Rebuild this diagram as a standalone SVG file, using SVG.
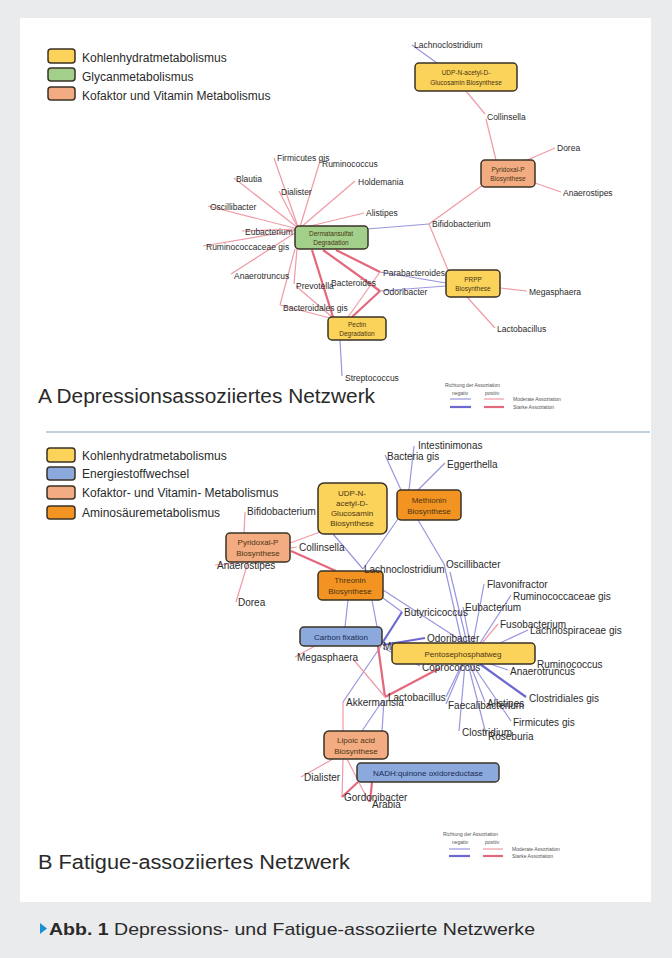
<svg xmlns="http://www.w3.org/2000/svg" width="672" height="958" viewBox="0 0 672 958">
<style>
.n{stroke:#3a3226;stroke-width:1.5}
.y{fill:#fbd35b}.g{fill:#a2d08a}.s{fill:#f3ac82}.o{fill:#f39321}.b{fill:#8ba9dc}
.nt{font-family:"Liberation Sans",Arial,sans-serif;text-anchor:middle;fill:#4a3512}
.ntb{font-family:"Liberation Sans",Arial,sans-serif;text-anchor:middle;fill:#1c2a55}
.la{font-family:"Liberation Sans",Arial,sans-serif;font-size:8.5px;fill:#2b2b2b}
.lb{font-family:"Liberation Sans",Arial,sans-serif;font-size:10px;fill:#2b2b2b}
.leg{font-family:"Liberation Sans",Arial,sans-serif;font-size:12px;fill:#2a2a2a}
.tiny{font-family:"Liberation Sans",Arial,sans-serif;font-size:5px;fill:#555}
.title{font-family:"Liberation Sans",Arial,sans-serif;font-size:20px;fill:#2a2a2a}
.pm{stroke:#ef9aa6;stroke-width:1.2;fill:none}
.ps{stroke:#e4687b;stroke-width:2.2;fill:none}
.bm{stroke:#9896de;stroke-width:1.2;fill:none}
.bs{stroke:#6c68cf;stroke-width:2.2;fill:none}
</style>
<rect x="0" y="0" width="672" height="958" fill="#eaebed"/>
<rect x="20" y="18" width="631" height="884" fill="#ffffff"/>
<line x1="46" y1="432" x2="650" y2="432" stroke="#aebfd0" stroke-width="1.5"/>

<!-- Legend A -->
<g id="legendA">
<rect x="48" y="49" width="27" height="14" rx="3" class="n y"/>
<rect x="48" y="68" width="27" height="13" rx="3" class="n g"/>
<rect x="48" y="87" width="27" height="13" rx="3" class="n s"/>
<text x="82" y="62" class="leg">Kohlenhydratmetabolismus</text>
<text x="82" y="81" class="leg">Glycanmetabolismus</text>
<text x="82" y="100" class="leg">Kofaktor und Vitamin Metabolismus</text>
</g>

<!-- Connectors A -->
<g id="connectorsA">
<line x1="412" y1="45" x2="437" y2="63" class="bm"/>
<line x1="466" y1="91" x2="485" y2="114" class="pm"/>
<line x1="486" y1="119" x2="496" y2="160" class="pm"/>
<line x1="525" y1="161" x2="555" y2="148" class="pm"/>
<line x1="535" y1="183" x2="561" y2="192" class="pm"/>
<line x1="483" y1="185" x2="429" y2="224" class="pm"/>
<line x1="429" y1="224" x2="448" y2="270" class="pm"/>
<line x1="367" y1="229" x2="429" y2="224" class="bm"/>
<line x1="274" y1="158" x2="298" y2="227" class="pm"/>
<line x1="320" y1="161" x2="300" y2="227" class="pm"/>
<line x1="234" y1="178" x2="298" y2="228" class="pm"/>
<line x1="279" y1="191" x2="298" y2="228" class="pm"/>
<line x1="355" y1="181" x2="300" y2="228" class="pm"/>
<line x1="208" y1="206" x2="298" y2="229" class="pm"/>
<line x1="364" y1="213" x2="302" y2="228" class="pm"/>
<line x1="242" y1="231" x2="298" y2="229" class="pm"/>
<line x1="203" y1="246" x2="298" y2="230" class="pm"/>
<line x1="231" y1="274" x2="298" y2="231" class="pm"/>
<line x1="297" y1="249" x2="294" y2="284" class="pm"/>
<line x1="295" y1="249" x2="280" y2="305" class="pm"/>
<line x1="280" y1="305" x2="330" y2="318" class="pm"/>
<line x1="296" y1="286" x2="332" y2="317" class="pm"/>
<line x1="312" y1="250" x2="333" y2="317" class="ps"/>
<line x1="323" y1="250" x2="380" y2="291" class="ps"/>
<line x1="336" y1="250" x2="380" y2="272" class="ps"/>
<line x1="348" y1="317" x2="380" y2="272" class="pm"/>
<line x1="352" y1="317" x2="380" y2="291" class="ps"/>
<line x1="340" y1="340" x2="342" y2="376" class="bm"/>
<line x1="380" y1="272" x2="446" y2="283" class="bm"/>
<line x1="380" y1="291" x2="446" y2="286" class="bm"/>
<line x1="500" y1="288" x2="527" y2="291" class="pm"/>
<line x1="467" y1="297" x2="495" y2="328" class="pm"/>
</g>

<!-- Nodes A -->
<g id="a-udp"><rect x="415" y="63" width="102" height="28" rx="4" class="n y"/>
<text x="466" y="75" class="nt" font-size="6.5">UDP-N-acetyl-D-</text>
<text x="466" y="85" class="nt" font-size="6.5">Glucosamin Biosynthese</text></g>
<g id="a-pyridoxal"><rect x="481" y="160" width="54" height="27" rx="4" class="n s"/>
<text x="508" y="172" class="nt" font-size="6.5">Pyridoxal-P</text>
<text x="508" y="181" class="nt" font-size="6.5">Biosynthese</text></g>
<g id="a-derm"><rect x="295" y="226" width="73" height="23" rx="4" class="n g"/>
<text x="331" y="236" class="nt" font-size="6.5" fill="#2c3a1c">Dermatansulfat</text>
<text x="331" y="245" class="nt" font-size="6.5" fill="#2c3a1c">Degradation</text></g>
<g id="a-pectin"><rect x="328" y="317" width="58" height="23" rx="4" class="n y"/>
<text x="357" y="327" class="nt" font-size="6.5">Pectin</text>
<text x="357" y="336" class="nt" font-size="6.5">Degradation</text></g>
<g id="a-prpp"><rect x="446" y="270" width="54" height="27" rx="4" class="n y"/>
<text x="473" y="282" class="nt" font-size="6.5">PRPP</text>
<text x="473" y="291" class="nt" font-size="6.5">Biosynthese</text></g>

<!-- Labels A -->
<g id="labelsA">
<text x="414" y="48" class="la">Lachnoclostridium</text>
<text x="487" y="120" class="la">Collinsella</text>
<text x="557" y="151" class="la">Dorea</text>
<text x="563" y="196" class="la">Anaerostipes</text>
<text x="432" y="227" class="la">Bifidobacterium</text>
<text x="277" y="161" class="la">Firmicutes gis</text>
<text x="322" y="167" class="la">Ruminococcus</text>
<text x="236" y="182" class="la">Blautia</text>
<text x="281" y="195" class="la">Dialister</text>
<text x="358" y="185" class="la">Holdemania</text>
<text x="210" y="210" class="la">Oscillibacter</text>
<text x="366" y="216" class="la">Alistipes</text>
<text x="245" y="235" class="la">Eubacterium</text>
<text x="206" y="250" class="la">Ruminococcaceae gis</text>
<text x="234" y="279" class="la">Anaerotruncus</text>
<text x="296" y="289" class="la">Prevotella</text>
<text x="331" y="286" class="la">Bacteroides</text>
<text x="283" y="311" class="la">Bacteroidales gis</text>
<text x="383" y="276" class="la">Parabacteroides</text>
<text x="383" y="295" class="la">Odoribacter</text>
<text x="529" y="295" class="la">Megasphaera</text>
<text x="497" y="332" class="la">Lactobacillus</text>
<text x="345" y="381" class="la">Streptococcus</text>
</g>

<text x="38" y="403" class="title" textLength="337" lengthAdjust="spacingAndGlyphs">A Depressionsassoziiertes Netzwerk</text>

<g id="assocA">
<text x="445" y="387" class="tiny">Richtung der Assoziation</text>
<text x="452" y="395" class="tiny">negativ</text>
<text x="485" y="395" class="tiny">positiv</text>
<line x1="450" y1="399" x2="471" y2="399" class="bm"/>
<line x1="484" y1="399" x2="504" y2="399" class="pm"/>
<line x1="450" y1="407" x2="471" y2="407" class="bs"/>
<line x1="484" y1="407" x2="504" y2="407" class="ps"/>
<text x="513" y="401" class="tiny">Moderate Assoziation</text>
<text x="513" y="409" class="tiny">Starke Assoziation</text>
</g>

<!-- Legend B -->
<g id="legendB">
<rect x="47" y="448" width="28" height="14" rx="3" class="n y"/>
<rect x="47" y="467" width="28" height="13" rx="3" class="n b"/>
<rect x="47" y="486" width="28" height="13" rx="3" class="n s"/>
<rect x="47" y="506" width="28" height="13" rx="3" class="n o"/>
<text x="82" y="460" class="leg">Kohlenhydratmetabolismus</text>
<text x="82" y="478" class="leg">Energiestoffwechsel</text>
<text x="82" y="497" class="leg">Kofaktor- und Vitamin- Metabolismus</text>
<text x="82" y="517" class="leg">Aminosäuremetabolismus</text>
</g>

<!-- Connectors B -->
<g id="connectorsB">
<line x1="244" y1="533" x2="245" y2="512" class="pm"/>
<line x1="248" y1="562" x2="236" y2="602" class="pm"/>
<line x1="238" y1="563" x2="215" y2="565" class="pm"/>
<line x1="290" y1="548" x2="297" y2="547" class="pm"/>
<line x1="290" y1="543" x2="320" y2="532" class="pm"/>
<line x1="291" y1="551" x2="336" y2="571" class="ps"/>
<line x1="333" y1="534" x2="363" y2="569" class="bm"/>
<line x1="398" y1="519" x2="363" y2="569" class="bm"/>
<line x1="385" y1="455" x2="401" y2="490" class="bm"/>
<line x1="414" y1="446" x2="409" y2="490" class="bm"/>
<line x1="445" y1="463" x2="418" y2="490" class="bm"/>
<line x1="418" y1="520" x2="444" y2="564" class="bm"/>
<line x1="444" y1="564" x2="462" y2="643" class="bm"/>
<line x1="450" y1="572" x2="467" y2="643" class="bm"/>
<line x1="348" y1="600" x2="345" y2="627" class="bm"/>
<line x1="372" y1="600" x2="377" y2="627" class="bm"/>
<line x1="383" y1="598" x2="402" y2="612" class="bm"/>
<line x1="383" y1="590" x2="465" y2="643" class="bm"/>
<line x1="402" y1="612" x2="381" y2="645" class="bs"/>
<line x1="383" y1="645" x2="425" y2="638" class="bs"/>
<line x1="383" y1="648" x2="420" y2="666" class="bm"/>
<line x1="381" y1="646" x2="343" y2="702" class="bm"/>
<line x1="484" y1="584" x2="473" y2="643" class="bm"/>
<line x1="511" y1="595" x2="480" y2="643" class="bm"/>
<line x1="463" y1="607" x2="470" y2="643" class="bm"/>
<line x1="498" y1="624" x2="482" y2="643" class="pm"/>
<line x1="528" y1="630" x2="500" y2="643" class="bm"/>
<line x1="446" y1="697" x2="462" y2="664" class="bm"/>
<line x1="446" y1="704" x2="463" y2="664" class="bm"/>
<line x1="459" y1="731" x2="465" y2="664" class="bm"/>
<line x1="486" y1="734" x2="468" y2="664" class="bm"/>
<line x1="485" y1="702" x2="470" y2="664" class="bm"/>
<line x1="511" y1="721" x2="472" y2="664" class="bm"/>
<line x1="526" y1="697" x2="480" y2="664" class="bs"/>
<line x1="508" y1="670" x2="490" y2="664" class="bm"/>
<line x1="385" y1="697" x2="440" y2="668" class="ps"/>
<line x1="385" y1="697" x2="378" y2="646" class="ps"/>
<line x1="353" y1="659" x2="385" y2="697" class="pm"/>
<line x1="295" y1="657" x2="315" y2="646" class="pm"/>
<line x1="362" y1="731" x2="383" y2="700" class="bm"/>
<line x1="382" y1="731" x2="384" y2="700" class="bm"/>
<line x1="343" y1="702" x2="343" y2="731" class="pm"/>
<line x1="343" y1="759" x2="342" y2="797" class="pm"/>
<line x1="333" y1="759" x2="301" y2="777" class="pm"/>
<line x1="347" y1="759" x2="369" y2="802" class="pm"/>
<line x1="358" y1="782" x2="342" y2="797" class="ps"/>
<line x1="372" y1="782" x2="370" y2="802" class="ps"/>
</g>

<!-- Nodes B -->
<g id="b-udp"><rect x="318" y="483" width="69" height="51" rx="6" class="n y"/>
<text x="352" y="496" class="nt" font-size="8">UDP-N-</text>
<text x="352" y="506" class="nt" font-size="8">acetyl-D-</text>
<text x="352" y="516" class="nt" font-size="8">Glucosamin</text>
<text x="352" y="526" class="nt" font-size="8">Biosynthese</text></g>
<g id="b-methionin"><rect x="397" y="490" width="64" height="30" rx="4" class="n o"/>
<text x="429" y="503" class="nt" font-size="8" fill="#5a2a00">Methionin</text>
<text x="429" y="514" class="nt" font-size="8" fill="#5a2a00">Biosynthese</text></g>
<g id="b-pyridoxal"><rect x="226" y="533" width="64" height="29" rx="4" class="n s"/>
<text x="258" y="545" class="nt" font-size="8" fill="#5a2a00">Pyridoxal-P</text>
<text x="258" y="556" class="nt" font-size="8" fill="#5a2a00">Biosynthese</text></g>
<g id="b-threonin"><rect x="318" y="571" width="65" height="29" rx="4" class="n o"/>
<text x="350" y="583" class="nt" font-size="8" fill="#5a2a00">Threonin</text>
<text x="350" y="594" class="nt" font-size="8" fill="#5a2a00">Biosynthese</text></g>

<g id="labelsB">
<text x="418" y="449" class="lb">Intestinimonas</text>
<text x="387" y="460" class="lb">Bacteria gis</text>
<text x="447" y="468" class="lb">Eggerthella</text>
<text x="247" y="515" class="lb">Bifidobacterium</text>
<text x="299" y="551" class="lb">Collinsella</text>
<text x="217" y="569" class="lb">Anaerostipes</text>
<text x="238" y="606" class="lb">Dorea</text>
<text x="364" y="573" class="lb">Lachnoclostridium</text>
<text x="446" y="568" class="lb">Oscillibacter</text>
<text x="487" y="588" class="lb">Flavonifractor</text>
<text x="513" y="600" class="lb">Ruminococcaceae gis</text>
<text x="465" y="611" class="lb">Eubacterium</text>
<text x="404" y="616" class="lb">Butyricicoccus</text>
<text x="500" y="628" class="lb">Fusobacterium</text>
<text x="530" y="634" class="lb">Lachnospiraceae gis</text>
<text x="427" y="642" class="lb">Odoribacter</text>
<text x="383" y="650" class="lb">Mi</text>
<text x="297" y="661" class="lb">Megasphaera</text>
<text x="422" y="671" class="lb">Coprococcus</text>
<text x="537" y="668" class="lb">Ruminococcus</text>
<text x="510" y="675" class="lb">Anaerotruncus</text>
<text x="529" y="702" class="lb">Clostridiales gis</text>
<text x="346" y="706" class="lb">Akkermansia</text>
<text x="388" y="701" class="lb">Lactobacillus</text>
<text x="448" y="709" class="lb">Faecalibacterium</text>
<text x="487" y="707" class="lb">Alistipes</text>
<text x="513" y="726" class="lb">Firmicutes gis</text>
<text x="462" y="736" class="lb">Clostridium</text>
<text x="488" y="740" class="lb">Roseburia</text>
<text x="304" y="781" class="lb">Dialister</text>
<text x="344" y="801" class="lb">Gordonibacter</text>
<text x="372" y="808" class="lb">Arabia</text>
</g>

<g id="b-carbon"><rect x="300" y="627" width="82" height="19" rx="4" class="n b"/>
<text x="341" y="640" class="ntb" font-size="8">Carbon fixation</text></g>
<g id="b-pentose"><rect x="392" y="643" width="143" height="21" rx="4" class="n y"/>
<text x="463" y="657" class="nt" font-size="8">Pentosephosphatweg</text></g>
<g id="b-lipoic"><rect x="324" y="731" width="64" height="28" rx="5" class="n s"/>
<text x="356" y="743" class="nt" font-size="8" fill="#5a2a00">Lipoic acid</text>
<text x="356" y="754" class="nt" font-size="8" fill="#5a2a00">Biosynthese</text></g>
<g id="b-nadh"><rect x="357" y="763" width="142" height="19" rx="4" class="n b"/>
<text x="428" y="776" class="ntb" font-size="8">NADH:quinone oxidoreductase</text></g>

<text x="38" y="869" class="title" textLength="312" lengthAdjust="spacingAndGlyphs">B Fatigue-assoziiertes Netzwerk</text>

<g id="assocB">
<text x="443" y="836" class="tiny">Richtung der Assoziation</text>
<text x="452" y="844" class="tiny">negativ</text>
<text x="485" y="844" class="tiny">positiv</text>
<line x1="449" y1="849" x2="470" y2="849" class="bm"/>
<line x1="483" y1="849" x2="503" y2="849" class="pm"/>
<line x1="449" y1="856" x2="470" y2="856" class="bs"/>
<line x1="483" y1="856" x2="503" y2="856" class="ps"/>
<text x="512" y="851" class="tiny">Moderate Assoziation</text>
<text x="512" y="858" class="tiny">Starke Assoziation</text>
</g>

<g id="caption">
<polygon points="40,923 47,928.5 40,934" fill="#1a8fd6"/>
<text x="49" y="935" font-family="'Liberation Sans',Arial,sans-serif" font-size="17" fill="#2a2a2a" textLength="486" lengthAdjust="spacingAndGlyphs"><tspan font-weight="bold">Abb. 1</tspan> Depressions- und Fatigue-assoziierte Netzwerke</text>
</g>
</svg>
